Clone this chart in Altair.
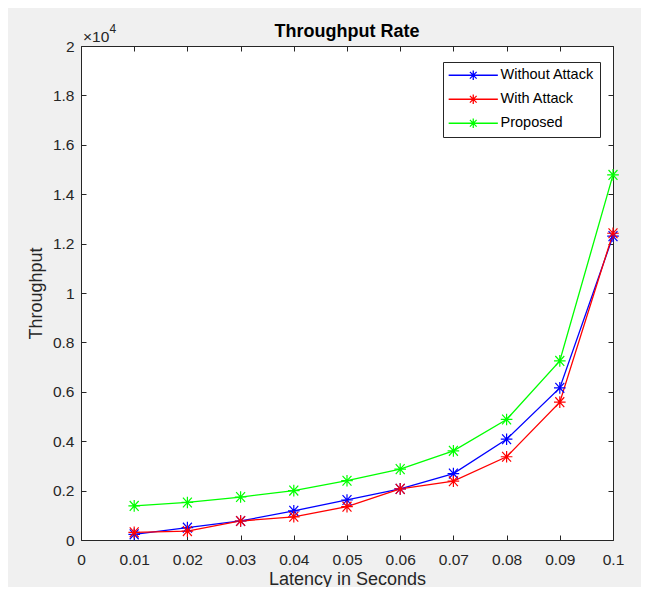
import altair as alt
import pandas as pd

# ---- data ----
latency = [0.01, 0.02, 0.03, 0.04, 0.05, 0.06, 0.07, 0.08, 0.09, 0.10]
without_attack = [230, 500, 770, 1180, 1620, 2070, 2690, 4080, 6160, 12300]
with_attack = [310, 360, 770, 940, 1350, 2070, 2380, 3370, 5580, 12420]
proposed = [1380, 1520, 1740, 2000, 2400, 2870, 3610, 4880, 7250, 14780]

series_names = ["Without Attack", "With Attack", "Proposed"]
series_colors = ["#0000ff", "#ff0000", "#00ff00"]

x_ticks = [0, 0.01, 0.02, 0.03, 0.04, 0.05, 0.06, 0.07, 0.08, 0.09, 0.1]
y_ticks = [0, 2000, 4000, 6000, 8000, 10000, 12000, 14000, 16000, 18000, 20000]

title_text = ["Throughput Rate"]
exp_text = ["×10"]
exp_sup_text = ["4"]

rows = []
for name, vals in zip(series_names, [without_attack, with_attack, proposed]):
    for lat, v in zip(latency, vals):
        rows.append({"latency": lat, "throughput": v, "series": name})
df = pd.DataFrame(rows)

W, H = 532, 494
FONT = "Liberation Sans"
AX = "#262626"
STAR = "M-1,-1.1L1,1.1M-1,1.1L1,-1.1M-1.3,0L1.3,0M0,-1.3L0,1.3"
LEG = "M-4.1,0L4.1,0M0,-0.8L0,0.8M-0.56,-0.56L0.56,0.56M-0.56,0.56L0.56,-0.56"

xs = alt.Scale(domain=[0, 0.1], nice=False, zero=False)
ys = alt.Scale(domain=[0, 20000], nice=False)

color = alt.Color(
    "series:N",
    scale=alt.Scale(domain=series_names, range=series_colors),
    legend=alt.Legend(
        title=None, orient="none", legendX=362, legendY=16,
        symbolType=LEG, symbolSize=144, symbolStrokeWidth=1.3,
        symbolOffset=17, labelOffset=20, labelFont=FONT, labelFontSize=14.5,
        labelColor="black", fillColor="white", strokeColor=AX,
        padding=6, rowPadding=8, cornerRadius=0,
    ),
)

base = alt.Chart(df)

lines = base.mark_line(strokeWidth=1.3).encode(
    x=alt.X("latency:Q", scale=xs, axis=alt.Axis(
        orient="bottom", values=x_ticks, format="~g", ticks=False, domain=False,
        grid=False, title="Latency in Seconds", labelPadding=12, labelFlush=False,
        titleY=39, titleBaseline="middle")),
    y=alt.Y("throughput:Q", scale=ys, axis=alt.Axis(
        orient="left", values=y_ticks, labelExpr="format(datum.value/10000,'~g')",
        ticks=False, domain=False, grid=False, title="Throughput", labelFlush=False,
        labelPadding=7, titleX=-45, titleY=247, titleBaseline="middle", titleAngle=-90)),
    color=color,
)

points = base.mark_point(shape=STAR, size=80, filled=False, strokeWidth=1.2, opacity=1).encode(
    x=alt.X("latency:Q", scale=xs, axis=alt.Axis(
        orient="top", offset=-H, values=x_ticks, labels=False, domain=False,
        ticks=True, tickSize=5, grid=False, title=None)),
    y=alt.Y("throughput:Q", scale=ys, axis=alt.Axis(
        orient="right", offset=-W, values=y_ticks, labels=False, domain=False,
        ticks=True, tickSize=5, grid=False, title=None)),
    color=color,
)

ghost = base.mark_point(opacity=0).encode(
    x=alt.X("latency:Q", scale=xs, axis=alt.Axis(
        orient="bottom", offset=-H, values=x_ticks, labels=False, domain=False,
        ticks=True, tickSize=5, grid=False, title=None)),
    y=alt.Y("throughput:Q", scale=ys, axis=alt.Axis(
        orient="left", offset=-W, values=y_ticks, labels=False, domain=False,
        ticks=True, tickSize=5, grid=False, title=None)),
)

title_mark = alt.Chart(pd.DataFrame({"t": title_text})).mark_text(
    align="center", baseline="alphabetic", font=FONT, fontSize=18,
    fontWeight="bold", color="black"
).encode(text="t:N", x=alt.value(W / 2), y=alt.value(-9))

exp_base = alt.Chart(pd.DataFrame({"t": exp_text})).mark_text(
    align="left", baseline="alphabetic", font=FONT, fontSize=15.5, color=AX
).encode(text="t:N", x=alt.value(2), y=alt.value(-4))

exp_sup = alt.Chart(pd.DataFrame({"t": exp_sup_text})).mark_text(
    align="left", baseline="alphabetic", font=FONT, fontSize=12, color=AX
).encode(text="t:N", x=alt.value(28.5), y=alt.value(-13))

chart = alt.layer(lines, points, ghost, title_mark, exp_base, exp_sup).resolve_axis(
    x="independent", y="independent"
).properties(
    width=W, height=H,
    autosize=alt.AutoSizeParams(type="none"),
    padding={"left": 73, "top": 38, "right": 28, "bottom": 47},
    background="#f0f0f0",
).configure_view(
    fill="white", stroke=AX, strokeWidth=1
).configure_axis(
    labelFont=FONT, labelFontSize=15.5, labelColor=AX, tickColor=AX,
    titleFont=FONT, titleFontSize=18, titleFontWeight="normal", titleColor=AX,
)

chart.save("out.html", embed_options={"renderer": "svg", "actions": False})
